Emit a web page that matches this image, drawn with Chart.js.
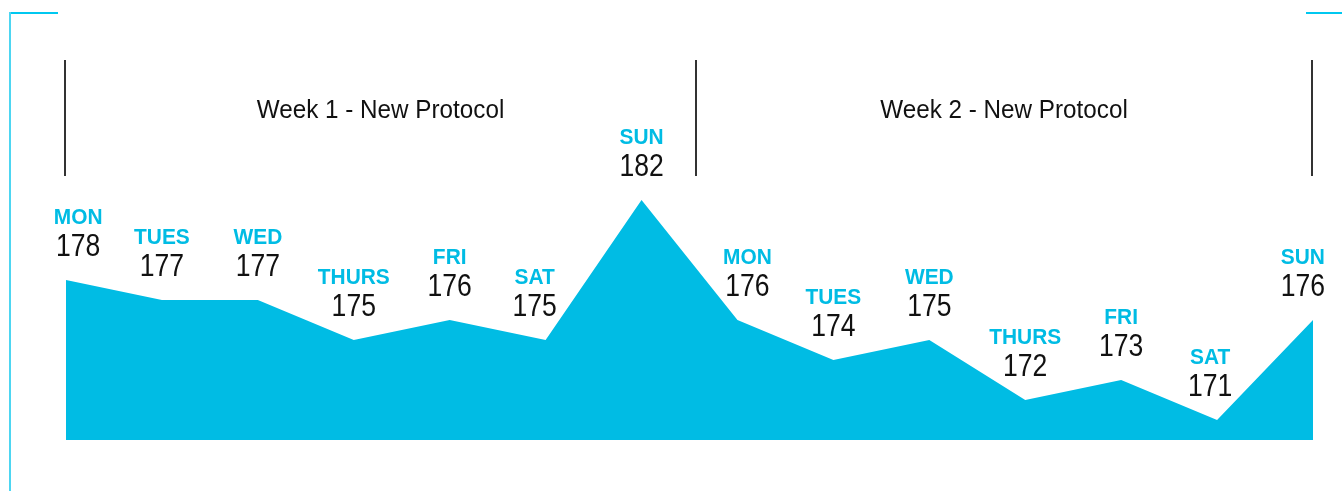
<!DOCTYPE html>
<html>
<head>
<meta charset="utf-8">
<script src="https://cdn.jsdelivr.net/npm/chart.js@4"></script>
<style>
  html, body { margin: 0; padding: 0; background: #fff; }
  #wrap { position: relative; width: 1342px; height: 491px; }
</style>
</head>
<body>
<div id="wrap"><canvas id="chart" width="1342" height="491"></canvas></div>
<script>
// данные
const days = ['MON', 'TUES', 'WED', 'THURS', 'FRI', 'SAT', 'SUN',
              'MON', 'TUES', 'WED', 'THURS', 'FRI', 'SAT', 'SUN'];
const values = [178, 177, 177, 175, 176, 175, 182, 176, 174, 175, 172, 173, 171, 176];
const weekNames = ['Week 1 - New Protocol', 'Week 2 - New Protocol'];
const weekBounds = [0, 6.58, 13]; // границы недель по индексу точки

const CYAN = '#00bce4';
const FONT = '"Liberation Sans", Arial, sans-serif';

// узкий текст: сжимаем по горизонтали
function narrowText(c, text, x, y, sx) {
    c.save();
    c.translate(x, y);
    c.scale(sx, 1);
    c.fillText(text, 0, 0);
    c.restore();
}

// высота линии графика в точке x
function lineY(pts, x) {
    if (x <= pts[0].x) return pts[0].y;
    for (let i = 1; i < pts.length; i++) {
        if (x <= pts[i].x) {
            const t = (x - pts[i - 1].x) / (pts[i].x - pts[i - 1].x);
            return pts[i - 1].y + t * (pts[i].y - pts[i - 1].y);
        }
    }
    return pts[pts.length - 1].y;
}

function clear(pts, x, w, bottom) {
    for (let xx = x - w / 2; xx <= x + w / 2; xx += 2) {
        if (lineY(pts, xx) < bottom + 8) return false;
    }
    return true;
}

const labelsPlugin = {
    id: 'dayLabels',
    afterDatasetsDraw(chart) {
        const c = chart.ctx;
        const pts = chart.getDatasetMeta(0).data;
        const area = chart.chartArea;
        c.save();
        c.textAlign = 'center';
        c.textBaseline = 'alphabetic';
        pts.forEach((pt, i) => {
            const txt = String(values[i]);
            c.font = '32px ' + FONT;
            const w = c.measureText(txt).width * 0.83;
            const lo = area.left - 10 + w / 2;
            const hi = area.right + 12 - w / 2;
            const base = pt.y - 24;
            let x = Math.min(Math.max(pt.x, lo), hi);
            // сдвигаем подпись, если она задевает заливку
            for (let s = 0; s <= 30; s++) {
                const a = Math.min(Math.max(x - s, lo), hi);
                const b = Math.min(Math.max(x + s, lo), hi);
                if (clear(pts, a, w, base)) { x = a; break; }
                if (clear(pts, b, w, base)) { x = b; break; }
            }
            c.fillStyle = '#111';
            narrowText(c, txt, x, base, 0.83);
            c.font = 'bold 22px ' + FONT;
            c.fillStyle = CYAN;
            narrowText(c, days[i], x, pt.y - 56, 0.95);
        });
        c.restore();
    }
};

const framePlugin = {
    id: 'frame',
    afterDraw(chart) {
        const c = chart.ctx;
        const xs = chart.scales.x;
        c.save();
        // уголки рамки
        c.fillStyle = '#00c8f0';
        c.fillRect(10, 12, 48, 2);
        c.fillRect(1306, 12, 36, 2);
        c.fillStyle = '#4dd6f2';
        c.fillRect(9, 12, 2, 479);
        // разделители недель
        c.strokeStyle = '#333';
        c.lineWidth = 2;
        const px = weekBounds.map(b => Math.round(xs.getPixelForValue(b)) - 1);
        px.forEach(x => {
            c.beginPath();
            c.moveTo(x, 60);
            c.lineTo(x, 176);
            c.stroke();
        });
        c.fillStyle = '#111';
        c.font = '25px ' + FONT;
        c.textAlign = 'center';
        c.textBaseline = 'alphabetic';
        weekNames.forEach((name, i) => {
            narrowText(c, name, (px[i] + px[i + 1]) / 2, 118, 0.97);
        });
        c.restore();
    }
};

const ctx = document.getElementById('chart').getContext('2d');
const chart = new Chart(ctx, {
    type: 'line',
    data: {
        labels: days.map((d, i) => i),
        datasets: [{
            data: values,
            fill: 'start',
            backgroundColor: CYAN,
            borderWidth: 0,
            pointRadius: 0,
            tension: 0,
        }],
    },
    options: {
        responsive: false,
        animation: false,
        layout: { padding: { left: 66, right: 29, top: 40, bottom: 51 } },
        plugins: {
            legend: { display: false },
            tooltip: { enabled: false },
        },
        scales: {
            x: { display: false, offset: false },
            y: { display: false, min: 170, max: 190 },
        },
    },
    plugins: [labelsPlugin, framePlugin],
});
</script>
</body>
</html>
